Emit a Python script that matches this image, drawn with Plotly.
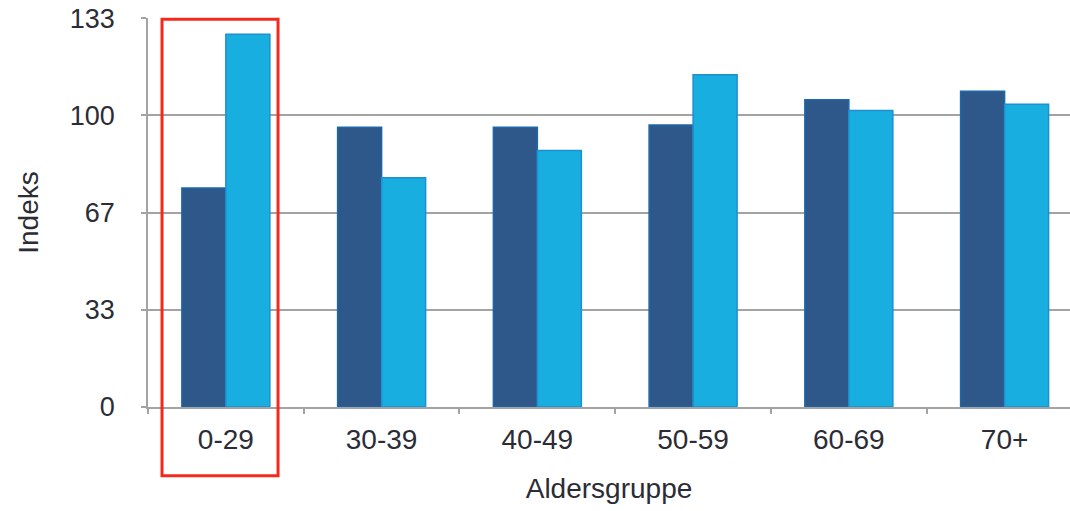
import plotly.graph_objects as go

categories = ["0-29", "30-39", "40-49", "50-59", "60-69", "70+"]
series_a = [75.1, 95.9, 95.9, 96.7, 105.4, 108.3]
series_b = [127.8, 78.6, 88.0, 113.9, 101.7, 103.8]
y_tickvals = [0, 33.33, 66.67, 100, 133.3]
y_ticktext = ["0", "33", "67", "100", "133"]
highlight = "0-29"

FONT = "Liberation Sans, Arial, sans-serif"
TXT = "#2c2c36"
GRID = "#a3a3a3"
FS = 28

fig = go.Figure()
fig.add_trace(go.Bar(x=categories, y=series_a, marker=dict(color="#2E578A", line=dict(color="#1C68AE", width=1.5)), showlegend=False))
fig.add_trace(go.Bar(x=categories, y=series_b, marker=dict(color="#18AEDF", line=dict(color="#1E8FD0", width=1.5)), showlegend=False))

hi = categories.index(highlight)
fig.add_shape(type="rect", xref="x", yref="paper", x0=hi - 0.41, x1=hi + 0.335, y0=-0.177, y1=0.997,
              line=dict(color="#F4291C", width=3), fillcolor="rgba(0,0,0,0)", layer="above")

fig.update_layout(
    width=1070, height=511,
    margin=dict(l=148, r=0, t=18, b=104),
    paper_bgcolor="white", plot_bgcolor="white",
    barmode="group", bargap=0.435, bargroupgap=0,
    font=dict(family=FONT, size=FS, color=TXT),
    xaxis=dict(
        range=[-0.5, 5.42], showline=True, linecolor=GRID, linewidth=1.5,
        ticks="outside", tickson="boundaries", ticklen=5, tickcolor=GRID, tickwidth=1.5,
        showgrid=False, ticklabelstandoff=7, automargin=False,
        title=dict(text="Aldersgruppe", font=dict(size=FS, color=TXT), standoff=24),
        tickfont=dict(size=FS, color=TXT),
    ),
    yaxis=dict(
        range=[0, 133.4], tickvals=y_tickvals, ticktext=y_ticktext,
        showline=True, linecolor=GRID, linewidth=1.5,
        ticks="outside", ticklen=5, tickcolor=GRID, tickwidth=1.5,
        showgrid=True, gridcolor=GRID, gridwidth=1.5, zeroline=False,
        ticklabelstandoff=21, automargin=False, ticklabeloverflow="allow",
        title=dict(text="Indeks", font=dict(size=FS, color=TXT), standoff=23),
        tickfont=dict(size=27, color=TXT),
    ),
)

fig.write_html("out.html", config={"displayModeBar": False},
               post_script="document.body.style.margin='0';")
